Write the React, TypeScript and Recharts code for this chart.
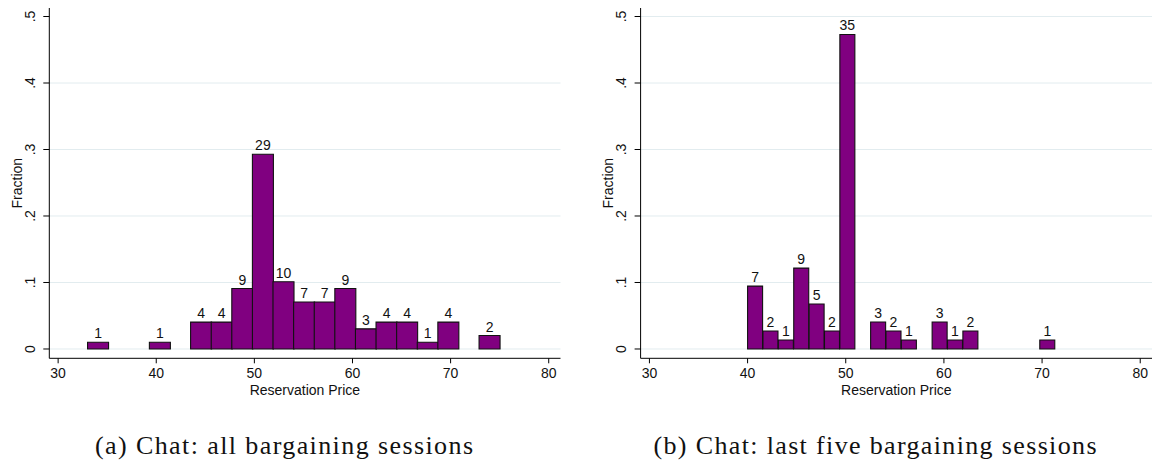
import React from 'react';
import { BarChart, Bar, XAxis, YAxis, CartesianGrid, LabelList } from 'recharts';

// ---- data ----
const leftBinMids = [34.05, 36.15, 38.25, 40.35, 42.45, 44.55, 46.65, 48.75, 50.85, 52.95, 55.05, 57.15, 59.25, 61.35, 63.45, 65.55, 67.65, 69.75, 71.85, 73.95];
const leftCounts = [1, 0, 0, 1, 0, 4, 4, 9, 29, 10, 7, 7, 9, 3, 4, 4, 1, 4, 0, 2];
const rightBinMids = [40.783, 42.35, 43.917, 45.483, 47.05, 48.617, 50.183, 51.75, 53.317, 54.883, 56.45, 58.017, 59.583, 61.15, 62.717, 64.283, 65.85, 67.417, 68.983, 70.55];
const rightCounts = [7, 2, 1, 9, 5, 2, 35, 0, 3, 2, 1, 0, 3, 1, 2, 0, 0, 0, 0, 1];
const xTicks = [30, 40, 50, 60, 70, 80];
const yTicks = [0, 0.1, 0.2, 0.3, 0.4, 0.5];
const leftGrid = [0, 0.1, 0.2, 0.3, 0.4];
const rightGrid = [0, 0.1, 0.2, 0.3, 0.4, 0.5];
const xTitle = 'Reservation Price';
const yTitle = 'Fraction';
const leftCaption = '(a) Chat: all bargaining sessions';
const rightCaption = '(b) Chat: last five bargaining sessions';

const FONT = '"Liberation Sans", Arial, Helvetica, sans-serif';
const SERIF = '"Liberation Serif", "Times New Roman", serif';

function buildData(mids: number[], counts: number[]) {
  const total = counts.reduce((a, b) => a + b, 0);
  return mids.map((m, i) => ({ mid: m, count: counts[i], frac: counts[i] / total }));
}

const leftData = buildData(leftBinMids, leftCounts);
const rightData = buildData(rightBinMids, rightCounts);

const fmtY = (v: number) => (v === 0 ? '0' : String(+v.toFixed(1)).replace(/^0/, ''));

const YTick = (props: any) => {
  const { x, y, payload } = props;
  return (
    <text
      x={0}
      y={0}
      transform={`translate(${x},${y}) rotate(-90)`}
      textAnchor="middle"
      fontSize={14}
      fontFamily={FONT}
      fill="#111"
    >
      {fmtY(payload.value)}
    </text>
  );
};

const YTitle = (props: any) => {
  const vb = props.viewBox || {};
  const cx = vb.x + vb.width - 27.5;
  const cy = vb.y + vb.height / 2;
  return (
    <text
      x={0}
      y={0}
      transform={`translate(${cx},${cy}) rotate(-90)`}
      textAnchor="middle"
      fontSize={14}
      fontFamily={FONT}
      fill="#111"
    >
      {yTitle}
    </text>
  );
};

const XTitle = (props: any) => {
  const vb = props.viewBox || {};
  return (
    <text
      x={vb.x + vb.width / 2}
      y={vb.y + 36.7}
      textAnchor="middle"
      fontSize={14}
      fontFamily={FONT}
      fill="#111"
    >
      {xTitle}
    </text>
  );
};

function Panel({ data, grid, width, yAxisWidth, marginRight }: any) {
  return (
    <BarChart
      width={width}
      height={400}
      data={data}
      margin={{ top: 8, right: marginRight, bottom: 0, left: 0 }}
      barCategoryGap={0}
      barGap={0}
    >
      <CartesianGrid vertical={false} horizontalValues={grid} stroke="#e2ecef" strokeWidth={1} />
      <XAxis
        type="number"
        dataKey="mid"
        domain={[29.1, 81.2]}
        allowDataOverflow
        ticks={xTicks}
        interval={0}
        tickSize={5}
        tickMargin={5}
        height={41.7}
        axisLine={{ stroke: '#000', strokeWidth: 1 }}
        tickLine={{ stroke: '#000', strokeWidth: 1 }}
        tick={{ fill: '#111', fontSize: 14, fontFamily: FONT }}
        label={<XTitle />}
      />
      <YAxis
        type="number"
        domain={[-0.014, 0.5128]}
        allowDataOverflow
        ticks={yTicks}
        interval={0}
        width={yAxisWidth}
        tickSize={6}
        tickMargin={8.3}
        axisLine={{ stroke: '#000', strokeWidth: 1 }}
        tickLine={{ stroke: '#000', strokeWidth: 1 }}
        tick={<YTick />}
        label={<YTitle />}
      />
      <Bar dataKey="frac" fill="#800080" stroke="#111" strokeWidth={1.1} isAnimationActive={false}>
        <LabelList
          dataKey="count"
          position="top"
          offset={4}
          formatter={(v: any) => (v ? v : '')}
          style={{ fill: '#111', fontSize: 14, fontFamily: FONT }}
        />
      </Bar>
    </BarChart>
  );
}

export default function App() {
  return (
    <div style={{ position: 'absolute', left: 0, top: 0, width: 1153, height: 461, background: '#fff', overflow: 'hidden' }}>
      <div style={{ position: 'absolute', left: 0, top: 0 }}>
        <Panel data={leftData} grid={leftGrid} width={580} yAxisWidth={49.3} marginRight={19.5} />
      </div>
      <div style={{ position: 'absolute', left: 580, top: 0 }}>
        <Panel data={rightData} grid={rightGrid} width={573} yAxisWidth={60.6} marginRight={1} />
      </div>
      <svg width={1153} height={461} style={{ position: 'absolute', left: 0, top: 0, pointerEvents: 'none' }}>
        <text x={95} y={454} fontSize={26} fontFamily={SERIF} fill="#111" textLength={378} lengthAdjust="spacing">
          {leftCaption}
        </text>
        <text x={653.5} y={454} fontSize={26} fontFamily={SERIF} fill="#111" textLength={443} lengthAdjust="spacing">
          {rightCaption}
        </text>
      </svg>
    </div>
  );
}
